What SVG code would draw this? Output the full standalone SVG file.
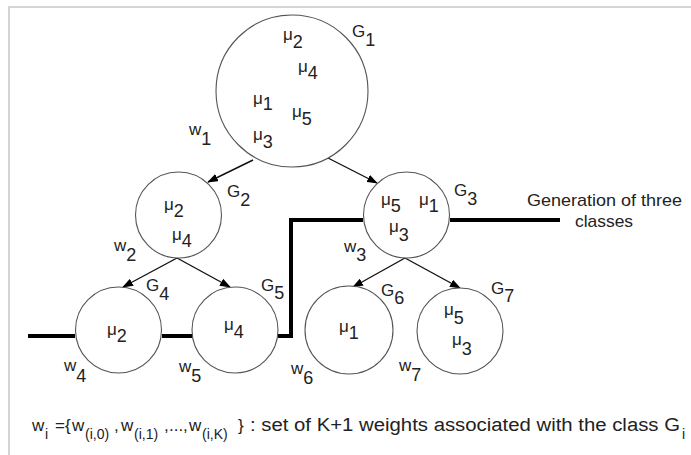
<svg xmlns="http://www.w3.org/2000/svg" width="691" height="455" viewBox="0 0 691 455">
<style>
.c{fill:#fff;stroke:#555;stroke-width:1.1}
.t{font-family:"Liberation Sans",Arial,sans-serif;font-size:17px;fill:#222}
.t tspan{font-size:18px}
.a{stroke:#111;stroke-width:1.4;fill:none;marker-end:url(#ah)}
.k{stroke:#000;stroke-width:4;fill:none}
.fr{stroke:#d4d4d4;stroke-width:2;fill:none}
.t tspan.sb{font-size:14px}
.t tspan.n{font-size:17px}
</style>
<defs>
<marker id="ah" markerUnits="userSpaceOnUse" markerWidth="11" markerHeight="8" refX="10" refY="4" orient="auto">
<path d="M0,0 L11,4 L0,8 z" fill="#000"/>
</marker>
</defs>
<rect width="691" height="455" fill="#fff"/>
<path class="fr" d="M691,7 H9 V455"/>
<g id="connectors">
<line class="a" x1="253" y1="160" x2="208" y2="182"/>
<line class="a" x1="328" y1="158" x2="377" y2="183"/>
<line class="a" x1="177" y1="258" x2="123" y2="287"/>
<line class="a" x1="177" y1="258" x2="230" y2="287"/>
<line class="a" x1="405" y1="258" x2="353" y2="287"/>
<line class="a" x1="405" y1="258" x2="460" y2="288"/>
<path class="k" d="M28,336 H75"/>
<path class="k" d="M162,336 H192"/>
<path class="k" d="M278,336 H291 V220 H363"/>
<path class="k" d="M450,220 H560"/>
</g>
<g id="G1">
<circle class="c" cx="292" cy="91" r="76"/>
<text class="t" x="283" y="40">μ<tspan dy="8">2</tspan></text>
<text class="t" x="298" y="72">μ<tspan dy="7">4</tspan></text>
<text class="t" x="253" y="104">μ<tspan dy="6">1</tspan></text>
<text class="t" x="292" y="117">μ<tspan dy="8">5</tspan></text>
<text class="t" x="253" y="140">μ<tspan dy="8">3</tspan></text>
<text class="t" x="352" y="37">G<tspan dy="9">1</tspan></text>
<text class="t" x="189" y="135">w<tspan dy="10">1</tspan></text>
</g>
<g id="G2">
<circle class="c" cx="178.5" cy="215" r="43"/>
<text class="t" x="164" y="210">μ<tspan dy="7">2</tspan></text>
<text class="t" x="172" y="240">μ<tspan dy="7">4</tspan></text>
<text class="t" x="227" y="197">G<tspan dy="9">2</tspan></text>
<text class="t" x="114" y="251">w<tspan dy="10">2</tspan></text>
</g>
<g id="G3">
<circle class="c" cx="406.5" cy="215" r="43"/>
<text class="t" x="381" y="205">μ<tspan dy="7">5</tspan></text>
<text class="t" x="419" y="205">μ<tspan dy="7">1</tspan></text>
<text class="t" x="389" y="232">μ<tspan dy="9">3</tspan></text>
<text class="t" x="454" y="196">G<tspan dy="9">3</tspan></text>
<text class="t" x="344" y="252">w<tspan dy="9">3</tspan></text>
</g>
<g id="G4">
<circle class="c" cx="118.5" cy="330" r="43"/>
<text class="t" x="107" y="335">μ<tspan dy="7">2</tspan></text>
<text class="t" x="146" y="291">G<tspan dy="9">4</tspan></text>
<text class="t" x="64" y="371">w<tspan dy="11">4</tspan></text>
</g>
<g id="G5">
<circle class="c" cx="235" cy="330" r="43"/>
<text class="t" x="224" y="330">μ<tspan dy="8">4</tspan></text>
<text class="t" x="261" y="291">G<tspan dy="8">5</tspan></text>
<text class="t" x="179" y="372">w<tspan dy="10">5</tspan></text>
</g>
<g id="G6">
<circle class="c" cx="349" cy="330" r="44"/>
<text class="t" x="339" y="332">μ<tspan dy="7">1</tspan></text>
<text class="t" x="381" y="296">G<tspan dy="8">6</tspan></text>
<text class="t" x="291" y="374">w<tspan dy="10">6</tspan></text>
</g>
<g id="G7">
<circle class="c" cx="460" cy="331" r="43"/>
<text class="t" x="444" y="315">μ<tspan dy="9">5</tspan></text>
<text class="t" x="452" y="345">μ<tspan dy="10">3</tspan></text>
<text class="t" x="491" y="294">G<tspan dy="8">7</tspan></text>
<text class="t" x="399" y="371">w<tspan dy="10">7</tspan></text>
</g>
<g id="note">
<text class="t" x="527" y="206" textLength="155" lengthAdjust="spacingAndGlyphs" style="font-size:17px">Generation of three</text>
<text class="t" x="575" y="227" textLength="58" lengthAdjust="spacingAndGlyphs" style="font-size:17px">classes</text>
</g>
<g id="legend">
<text class="t" x="32" y="431">w<tspan class="sb" x="45" dy="8">i</tspan><tspan class="n" x="55" dy="-8">=</tspan><tspan class="n" x="65">{</tspan><tspan class="n" x="72">w</tspan><tspan class="sb" x="85" dy="8">(i,0)</tspan><tspan class="n" x="114" dy="-8">,</tspan><tspan class="n" x="121">w</tspan><tspan class="sb" x="134" dy="8">(i,1)</tspan><tspan class="n" x="164" dy="-8">,</tspan><tspan class="n" x="169">...</tspan><tspan class="n" x="183">,</tspan><tspan class="n" x="189">w</tspan><tspan class="sb" x="202" dy="8">(i,K)</tspan><tspan class="n" x="238" dy="-8">}</tspan></text>
<text class="t" x="250" y="431" textLength="430" lengthAdjust="spacingAndGlyphs" style="font-size:18px">: set of K+1 weights associated with the class G</text>
<text class="t" x="682" y="439" style="font-size:14px">i</text>
</g>
</svg>
